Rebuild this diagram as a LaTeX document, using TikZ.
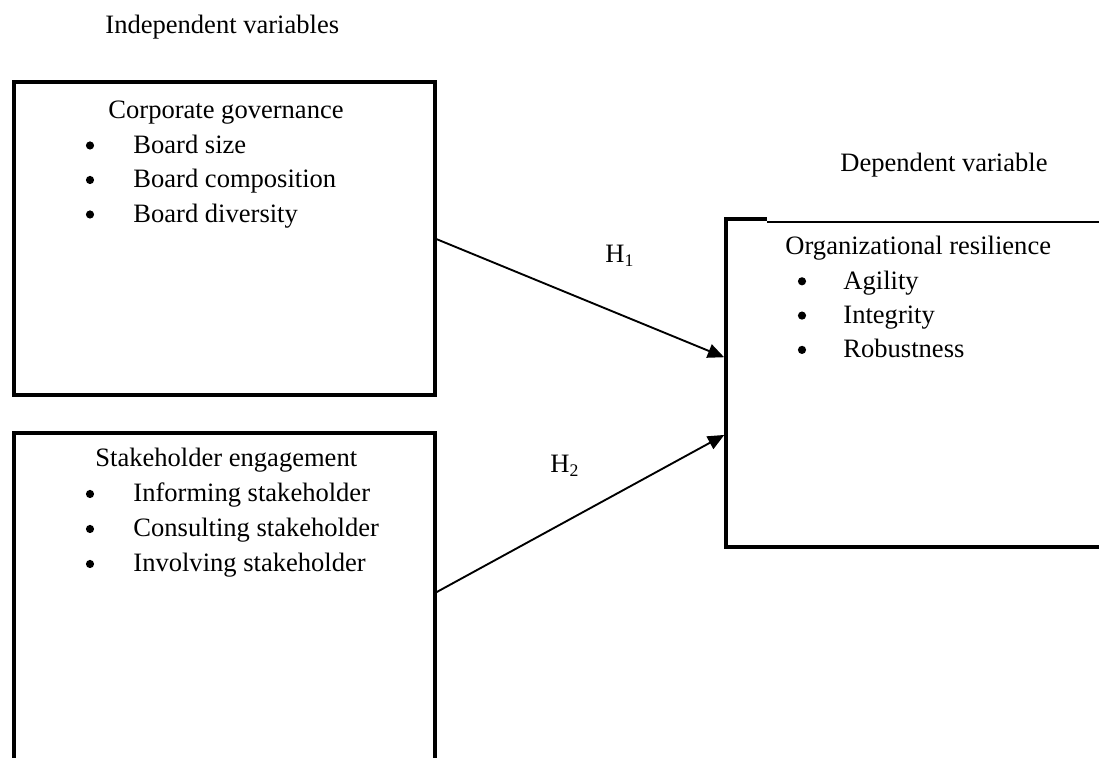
\documentclass[tikz,border=0pt]{standalone}
\usepackage{fontspec}
\setmainfont{Liberation Serif}
\usetikzlibrary{positioning}
\usetikzlibrary{arrows.meta}
\usetikzlibrary{calc}

\begin{document}
\begin{tikzpicture}[x=0.452pt, y=0.452pt,
    font=\fontsize{12}{14}\selectfont,
    varbox/.style={shape=rectangle, line width=1.8pt, outer sep=0pt, anchor=north west},
    txt/.style={inner sep=0pt, anchor=base west},
    dot/.style={shape=circle, fill=black, inner sep=0pt, minimum size=3.7pt},
    hyp/.style={line width=0.85pt, -{Triangle[length=7.4pt, width=6.4pt]}, shorten >=0.9pt}]
    \clip (0,0) rectangle (1099,758);

    \node[txt] (indep) at (105,724) {Independent variables};
    \node[txt] (dep) at (840,586) {Dependent variable};

    % corporate governance
    \node[varbox, draw=black, minimum width=421*0.452pt, minimum height=313*0.452pt] (CG) at (14,676) {};
    \node[txt] (CGhead) at (108,639) {Corporate governance};
    \foreach \lbl [count=\i] in {Board size, Board composition, Board diversity} {
        \node[dot] (CGdot\i) at (90,{647-34.5*\i}) {};
        \node[txt] (CGitem\i) at (133,{639-34.5*\i}) {\lbl};
    }

    % stakeholder engagement
    \node[varbox, draw=black, minimum width=421*0.452pt, minimum height=360*0.452pt] (SE) at (14,325) {};
    \node[txt] (SEhead) at (95,291) {Stakeholder engagement};
    \foreach \lbl [count=\i] in {Informing stakeholder, Consulting stakeholder, Involving stakeholder} {
        \node[dot] (SEdot\i) at (90,{299-35*\i}) {};
        \node[txt] (SEitem\i) at (133,{291-35*\i}) {\lbl};
    }

    % organizational resilience
    \node[varbox, minimum width=394*0.452pt, minimum height=328*0.452pt] (OR) at (726,539) {};
    \draw[line width=1.8pt] ($(OR.north west)+(41,0)$) -- (OR.north west) -- (OR.south west) -- (OR.south east);
    \draw[line width=0.9pt] ($(OR.north west)+(41,-3)$) -- ($(OR.north east)+(0,-3)$);
    \node[txt] (ORhead) at (785,503) {Organizational resilience};
    \foreach \lbl [count=\i] in {Agility, Integrity, Robustness} {
        \node[dot] (ORdot\i) at (802,{511-34.3*\i}) {};
        \node[txt] (ORitem\i) at (843,{503-34.3*\i}) {\lbl};
    }

    \draw[hyp] (CG.east) -- ($(OR.west)+(0,25)$);
    \draw[hyp] ($(SE.east)+(0,20)$) -- ($(OR.west)+(0,-51)$);
    \node[txt] (H1) at (605,495) {H\textsubscript{1}};
    \node[txt] (H2) at (550,285) {H\textsubscript{2}};
\end{tikzpicture}
\end{document}
